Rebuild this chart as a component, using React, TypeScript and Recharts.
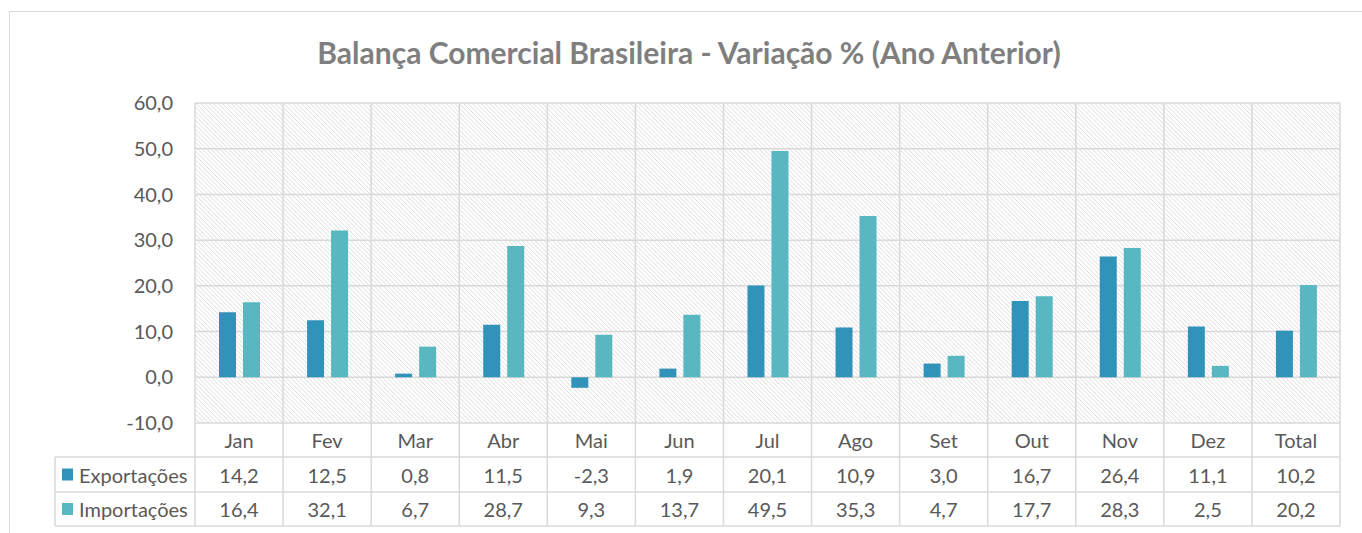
import React from 'react';
import { BarChart, Bar, XAxis, YAxis, CartesianGrid } from 'recharts';

const categories = ['Jan', 'Fev', 'Mar', 'Abr', 'Mai', 'Jun', 'Jul', 'Ago', 'Set', 'Out', 'Nov', 'Dez', 'Total'];
const exportacoes = [14.2, 12.5, 0.8, 11.5, -2.3, 1.9, 20.1, 10.9, 3.0, 16.7, 26.4, 11.1, 10.2];
const importacoes = [16.4, 32.1, 6.7, 28.7, 9.3, 13.7, 49.5, 35.3, 4.7, 17.7, 28.3, 2.5, 20.2];
const yTicks = [-10, 0, 10, 20, 30, 40, 50, 60];
const seriesNames = ['Exportações', 'Importações'];
const title = 'Balança Comercial Brasileira - Variação % (Ano Anterior)';

const COLORS = ['#3193b9', '#58b7c0'];
const GRID = '#d9d9d9';
const TEXT = '#595959';
const FONT = 'Lato, "Open Sans", sans-serif';

const W = 1362;
const H = 533;
const PLOT_L = 195;
const PLOT_R = 1340;
const PLOT_B = 423;
const CW = (PLOT_R - PLOT_L) / categories.length;
const ROW1 = 457;
const ROW2 = 492;
const ROW3 = 526;
const HEAD_L = 55;

const data = categories.map((c, i) => ({ cat: c, exp: exportacoes[i], imp: importacoes[i] }));

const fmt = (v: number) => v.toFixed(1).replace('.', ',');

const TableTick = (props: any) => {
  const { x, payload } = props;
  const i = categories.indexOf(payload.value);
  const left = x - CW / 2;
  const right = x + CW / 2;
  const textProps = { fill: TEXT, fontSize: 20, fontFamily: FONT, textAnchor: 'middle' as const, dominantBaseline: 'central' as const };
  return (
    <g>
      <line x1={right} y1={PLOT_B} x2={right} y2={ROW3} stroke={GRID} strokeWidth={1.5} />
      <line x1={left} y1={ROW1} x2={right} y2={ROW1} stroke={GRID} strokeWidth={1.5} />
      <line x1={left} y1={ROW2} x2={right} y2={ROW2} stroke={GRID} strokeWidth={1.5} />
      <line x1={left} y1={ROW3} x2={right} y2={ROW3} stroke={GRID} strokeWidth={1.5} />
      <text x={x} y={(PLOT_B + ROW1) / 2} {...textProps}>{payload.value}</text>
      <text x={x} y={(ROW1 + ROW2) / 2} {...textProps}>{fmt(exportacoes[i])}</text>
      <text x={x} y={(ROW2 + ROW3) / 2} {...textProps}>{fmt(importacoes[i])}</text>
      {i === 0 && (
        <g>
          <line x1={left} y1={PLOT_B} x2={left} y2={ROW3} stroke={GRID} strokeWidth={1.5} />
          <line x1={HEAD_L} y1={ROW1} x2={left} y2={ROW1} stroke={GRID} strokeWidth={1.5} />
          <line x1={HEAD_L} y1={ROW2} x2={left} y2={ROW2} stroke={GRID} strokeWidth={1.5} />
          <line x1={HEAD_L} y1={ROW3} x2={left} y2={ROW3} stroke={GRID} strokeWidth={1.5} />
          <line x1={HEAD_L} y1={ROW1} x2={HEAD_L} y2={ROW3} stroke={GRID} strokeWidth={1.5} />
          {seriesNames.map((name, k) => {
            const cy = k === 0 ? (ROW1 + ROW2) / 2 : (ROW2 + ROW3) / 2;
            return (
              <g key={name}>
                <rect x={62} y={cy - 6} width={11} height={12} fill={COLORS[k]} />
                <text x={79} y={cy} fill={TEXT} fontSize={20} fontFamily={FONT} dominantBaseline="central">{name}</text>
              </g>
            );
          })}
        </g>
      )}
    </g>
  );
};

export default function App() {
  return (
    <div style={{ position: 'absolute', left: 0, top: 0, width: W, height: H, overflow: 'hidden', background: '#fff', fontFamily: FONT }}>
      <div style={{ position: 'absolute', left: 9, top: 11, width: W + 100, height: H + 100, border: `1.5px solid ${GRID}`, boxSizing: 'border-box' }} />
      <div style={{ position: 'absolute', left: 0, top: 32, width: 1378, textAlign: 'center', fontSize: 30, fontWeight: 700, color: '#7f7f7f', lineHeight: '40px' }}>
        {title}
      </div>
      <div style={{ position: 'absolute', left: 0, top: 0 }}>
        <BarChart width={W} height={H} data={data} margin={{ top: 103, right: W - PLOT_R, bottom: 80, left: PLOT_L - 60 }} barSize={17} barGap={7}>
          <defs>
            <pattern id="hatch" patternUnits="userSpaceOnUse" width={3.1} height={3.1} patternTransform="rotate(-45)">
              <rect width={3.1} height={3.1} fill="#ffffff" />
              <line x1={0} y1={0} x2={0} y2={3.1} stroke="#d6d6d6" strokeWidth={1.2} />
            </pattern>
          </defs>
          <CartesianGrid
            fill="url(#hatch)"
            fillOpacity={1}
            stroke={GRID}
            strokeWidth={1.5}
            verticalCoordinatesGenerator={({ offset }: any) =>
              categories.map((_, i) => offset.left + (i * offset.width) / categories.length).concat([offset.left + offset.width])
            }
          />
          <XAxis dataKey="cat" axisLine={false} tickLine={false} height={30} interval={0} tick={<TableTick />} />
          <YAxis
            width={60}
            domain={[-10, 60]}
            ticks={yTicks}
            axisLine={false}
            tickLine={false}
            tickSize={0}
            tickMargin={22}
            tickFormatter={fmt}
            tick={{ fill: TEXT, fontSize: 20, fontFamily: FONT }}
          />
          <Bar dataKey="exp" name={seriesNames[0]} fill={COLORS[0]} isAnimationActive={false} />
          <Bar dataKey="imp" name={seriesNames[1]} fill={COLORS[1]} isAnimationActive={false} />
        </BarChart>
      </div>
    </div>
  );
}
